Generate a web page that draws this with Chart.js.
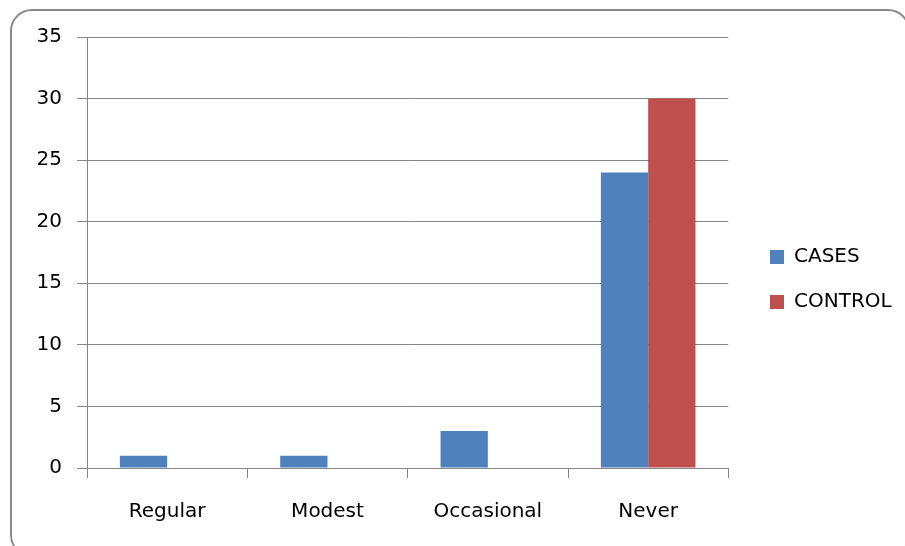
<!DOCTYPE html>
<html>
<head>
<meta charset="utf-8">
<script src="https://cdn.jsdelivr.net/npm/chart.js@4/dist/chart.umd.min.js"></script>
<style>
  html, body { margin: 0; padding: 0; background: #fff; }
  #wrap { position: relative; width: 905px; height: 546px; overflow: hidden; }
  #frame {
    position: absolute; left: 10px; top: 9px; width: 900px; height: 548px;
    border: 2px solid #8a8a8a; border-radius: 22px; box-sizing: border-box;
  }
  canvas { position: absolute; left: 0; top: 0; }
</style>
</head>
<body>
<div id="wrap">
  <div id="frame"></div>
  <canvas id="c" width="905" height="546"></canvas>
</div>
<script>
// Smoking habit by group
const categories = ['Regular', 'Modest', 'Occasional', 'Never'];
const casesValues = [1, 1, 3, 24];
const controlValues = [0, 0, 0, 30];
const seriesNames = ['CASES', 'CONTROL'];

const axisGrey = '#868686';
const labelFont = { family: 'DejaVu Sans', size: 20 };

// Places the legend block beside the plot
const legendPlacer = {
  id: 'legendPlacer',
  afterLayout(chart) {
    const lg = chart.legend;
    if (!lg) return;
    const w = lg.width;
    lg.left = 745;
    lg.right = lg.left + w;
    lg.top = 222;
    lg.bottom = 546;
    lg.height = lg.bottom - lg.top;
  }
};

new Chart(document.getElementById('c'), {
  type: 'bar',
  data: {
    labels: categories,
    datasets: [
      { label: seriesNames[0], data: casesValues, backgroundColor: '#4F81BD', borderWidth: 0 },
      { label: seriesNames[1], data: controlValues, backgroundColor: '#C0504D', borderWidth: 0 }
    ]
  },
  options: {
    responsive: false,
    animation: false,
    layout: { padding: { top: 37, left: 0, right: 20, bottom: 0 } },
    datasets: { bar: { categoryPercentage: 0.59, barPercentage: 1.0 } },
    plugins: {
      legend: {
        position: 'right',
        align: 'start',
        labels: {
          font: labelFont, color: '#000',
          boxWidth: 14, boxHeight: 14, padding: 25
        }
      },
      tooltip: { enabled: false },
      title: { display: false }
    },
    scales: {
      x: {
        afterFit(s) { s.height = 78; },
        grid: { drawOnChartArea: false, drawTicks: true, tickLength: 10, color: axisGrey, lineWidth: 1 },
        border: { display: true, color: axisGrey, width: 1 },
        ticks: { font: labelFont, color: '#000', padding: 22, maxRotation: 0 }
      },
      y: {
        min: 0, max: 35,
        afterFit(s) { s.width = 87; },
        grid: { drawOnChartArea: true, drawTicks: true, tickLength: 10, color: axisGrey, lineWidth: 1 },
        border: { display: true, color: axisGrey, width: 1 },
        ticks: { stepSize: 5, font: labelFont, color: '#000', padding: 15 }
      }
    }
  },
  plugins: [legendPlacer]
});
</script>
</body>
</html>
